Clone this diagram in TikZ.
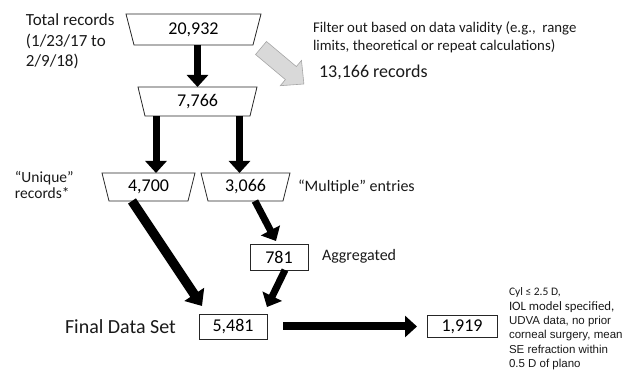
\documentclass[tikz,border=0pt]{standalone}
\usepackage{fontspec}
\setmainfont{Carlito}
\newfontfamily\arialf{Liberation Sans}
\usetikzlibrary{arrows.meta}
\begin{document}
\begin{tikzpicture}[x=1pt,y=-1pt,
  box/.style={draw=black!85, line width=0.8pt, inner sep=0pt, outer sep=0pt, font=\fontsize{18}{20}\selectfont},
  trap/.style={inner sep=0pt, outer sep=0pt, font=\fontsize{18}{20}\selectfont},
  trapline/.style={draw=black!85, line width=0.8pt},
  blk/.style={line width=7pt, -{Triangle[width=21pt,length=12pt]}},
  lbl/.style={inner sep=0pt, outer sep=0pt, anchor=west, align=left, text=black!90}]
\useasboundingbox (0,0) rectangle (622,371);

% trapezoid nodes
\node[trap, minimum width=135pt, minimum height=31pt] (t1) at (193.5,29.5) {20,932};
\node[trap, minimum width=119pt, minimum height=29pt] (t2) at (197.5,101.5) {7,766};
\node[trap, minimum width=93pt, minimum height=28pt] (t3) at (148.5,187) {4,700};
\node[trap, minimum width=89pt, minimum height=28pt] (t4) at (245.5,187) {3,066};
\draw[trapline] (t1.north west) -- (t1.north east) -- ([shift={(-8,0)}]t1.south east) -- ([shift={(8,0)}]t1.south west) -- cycle;
\draw[trapline] (t2.north west) -- (t2.north east) -- ([shift={(-7,0)}]t2.south east) -- ([shift={(7,0)}]t2.south west) -- cycle;
\draw[trapline] (t3.north west) -- (t3.north east) -- ([shift={(-7,0)}]t3.south east) -- ([shift={(7,0)}]t3.south west) -- cycle;
\draw[trapline] (t4.north west) -- (t4.north east) -- ([shift={(-7,0)}]t4.south east) -- ([shift={(7,0)}]t4.south west) -- cycle;

% boxes
\node[box, minimum width=58pt, minimum height=26pt] (b781) at (279,257) {781};
\node[box, minimum width=68pt, minimum height=25pt] (b5481) at (233,326.5) {5,481};
\node[box, minimum width=70pt, minimum height=22pt] (b1919) at (462,326.5) {1,919};

% black arrows
\draw[blk] (t1.south -| t2.north) -- (t2.north);
\draw[blk] ([shift={(-41.5,0)}]t2.south) coordinate (a2) -- (a2 |- t3.north);
\draw[blk] ([shift={(42,0)}]t2.south) coordinate (a3) -- (a3 |- t4.north);
\draw[blk, line width=9.5pt, -{Triangle[width=23pt,length=14pt]}] ([shift={(-16.5,0)}]t3.south) -- ([shift={(3,-8)}]b5481.north west);
\draw[blk] ([shift={(9.5,0)}]t4.south) -- ([shift={(-3,-3)}]b781.north);
\draw[blk] ([shift={(6,0)}]b781.south) -- ([shift={(0,-7)}]b5481.north east);
\draw[blk, line width=8pt] ([shift={(16,0)}]b5481.east) -- ([shift={(-10,0)}]b1919.west);

% gray block arrow
\begin{scope}[shift={(261,48)}, rotate=-40]
\filldraw[fill=gray!30, draw=gray!70, line width=0.6pt] (0,8.5) -- (39,8.5) -- (39,16.5) -- (56,0) -- (39,-16.5) -- (39,-8.5) -- (0,-8.5) -- cycle;
\end{scope}

% labels
\node[lbl, font=\fontsize{17}{20.5}\selectfont] (tot) at (26,41.5) {Total records\\(1/23/17 to\\2/9/18)};
\node[lbl, font=\fontsize{14.8}{18}\selectfont] (flt) at (313,37) {Filter out based on data validity (e.g.,\ \ range\\limits, theoretical or repeat calculations)};
\node[lbl, font=\fontsize{18}{20}\selectfont] (rec) at (319,72) {13,166 records};
\node[lbl, font=\fontsize{15.5}{15.5}\selectfont] (uni) at (15,185) {“Unique”\\records*};
\node[lbl, font=\fontsize{16}{18}\selectfont] (mul) at (298,187) {“Multiple” entries};
\node[lbl, font=\fontsize{16}{18}\selectfont] (agg) at (322,256) {Aggregated};
\node[lbl, font=\fontsize{20}{22}\selectfont] (fds) at (65,327) {Final Data Set};
\node[lbl, font=\fontsize{11.5}{14.4}\selectfont] (crit) at (509,329) {Cyl ≤ 2.5 D,\\{\fontsize{12.8}{14.4}\selectfont IOL model specified,}\\{\arialf UDVA data, no prior}\\{\arialf corneal surgery, mean}\\{\arialf SE refraction within}\\{\arialf 0.5 D of plano}};
\end{tikzpicture}
\end{document}
